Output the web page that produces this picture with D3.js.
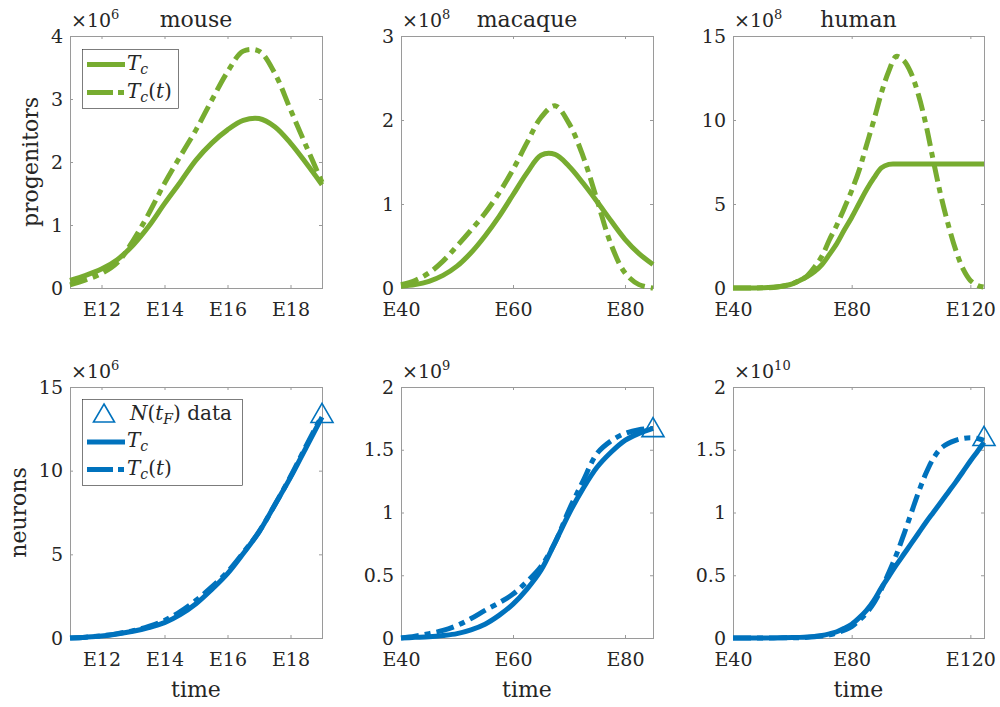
<!DOCTYPE html>
<html><head><meta charset="utf-8">
<script src="https://cdn.jsdelivr.net/npm/d3@7"></script>
<style>
body{margin:0;background:#fff}
svg{display:block}
text{font-family:"DejaVu Serif",serif;fill:#262626}
</style>
</head><body>
<svg id="chart" width="1000" height="707"></svg>
<script>
// ---------------- data ----------------
const speciesNames = ["mouse", "macaque", "human"];
const rowLabels = ["progenitors", "neurons"];
const xLabel = "time";

const mouseTime = [11, 11.5, 12, 12.5, 13, 13.5, 14, 14.5, 15, 15.5, 16, 16.5, 17, 17.5, 18, 18.5, 19];
const mouseProgTc  = [0.12, 0.20, 0.30, 0.45, 0.68, 0.98, 1.34, 1.68, 2.03, 2.30, 2.51, 2.66, 2.69, 2.56, 2.30, 1.98, 1.64];
const mouseProgTct = [0.05, 0.13, 0.23, 0.40, 0.75, 1.18, 1.66, 2.09, 2.51, 2.98, 3.43, 3.76, 3.76, 3.41, 2.83, 2.25, 1.68];
const mouseNeurTc  = [0, 0.05, 0.12, 0.24, 0.40, 0.62, 0.92, 1.40, 2.05, 2.90, 3.85, 5.05, 6.33, 7.95, 9.60, 11.4, 13.2];
const mouseNeurTct = [0, 0.05, 0.13, 0.26, 0.44, 0.70, 1.05, 1.58, 2.25, 3.05, 3.95, 5.10, 6.35, 7.95, 9.65, 11.5, 13.3];
const mouseNData = 13.45;

const macaqueTime = [40, 42.5, 45, 47.5, 50, 52.5, 55, 57.5, 60, 62.5, 65, 67.5, 70, 72.5, 75, 77.5, 80, 82.5, 85];
const macaqueProgTc  = [0.02, 0.04, 0.08, 0.15, 0.26, 0.42, 0.62, 0.85, 1.11, 1.37, 1.58, 1.59, 1.45, 1.25, 1.03, 0.80, 0.58, 0.41, 0.28];
const macaqueProgTct = [0.04, 0.09, 0.18, 0.32, 0.50, 0.69, 0.89, 1.13, 1.41, 1.73, 2.03, 2.17, 1.96, 1.57, 1.05, 0.52, 0.18, 0.04, 0.0];
const macaqueNeurTc  = [0, 0.005, 0.01, 0.02, 0.035, 0.065, 0.11, 0.18, 0.27, 0.39, 0.54, 0.76, 0.99, 1.19, 1.36, 1.48, 1.575, 1.63, 1.67];
const macaqueNeurTct = [0, 0.015, 0.035, 0.06, 0.10, 0.155, 0.22, 0.28, 0.35, 0.45, 0.57, 0.76, 1.02, 1.25, 1.47, 1.57, 1.63, 1.66, 1.67];
const macaqueNData = 1.68;

const humanTime = [40, 45, 50, 55, 60, 62.5, 65, 67.5, 70, 72.5, 75, 77.5, 80, 82.5, 85, 87.5, 90, 92.5, 95, 97.5, 100, 102.5, 105, 107.5, 110, 112.5, 115, 117.5, 120, 122.5, 124.6];
const humanProgTc  = [0, 0, 0.01, 0.07, 0.25, 0.45, 0.68, 0.98, 1.40, 2.0, 2.65, 3.45, 4.2, 5.03, 5.85, 6.55, 7.15, 7.36, 7.38, 7.38, 7.38, 7.38, 7.38, 7.38, 7.38, 7.38, 7.38, 7.38, 7.38, 7.38, 7.38];
const humanProgTct = [0, 0, 0.01, 0.06, 0.25, 0.45, 0.72, 1.25, 1.9, 2.87, 3.75, 4.75, 5.8, 7.0, 8.5, 10.0, 11.6, 12.9, 13.78, 13.55, 12.8, 11.5, 9.75, 7.6, 5.55, 3.8, 2.3, 1.15, 0.45, 0.15, 0.05];
const humanNeurTc  = [0, 0, 0, 0.001, 0.003, 0.005, 0.008, 0.013, 0.02, 0.033, 0.05, 0.077, 0.11, 0.16, 0.22, 0.30, 0.40, 0.49, 0.58, 0.665, 0.75, 0.835, 0.92, 1.0, 1.08, 1.16, 1.24, 1.325, 1.41, 1.49, 1.56];
const humanNeurTct = [0, 0, 0, 0.001, 0.002, 0.003, 0.005, 0.009, 0.015, 0.025, 0.04, 0.062, 0.09, 0.14, 0.20, 0.28, 0.39, 0.52, 0.66, 0.82, 0.99, 1.16, 1.31, 1.43, 1.51, 1.55, 1.575, 1.59, 1.595, 1.59, 1.575];
const humanNData = 1.61;

const xDomains = [[11, 19], [40, 85], [40, 124.6]];
const xTickValues = [[12, 14, 16, 18], [40, 60, 80], [40, 80, 120]];
const progYDomains = [[0, 4], [0, 3], [0, 15]];
const progYTicks = [[0, 1, 2, 3, 4], [0, 1, 2, 3], [0, 5, 10, 15]];
const progExponents = ["6", "8", "8"];
const neurYDomains = [[0, 15], [0, 2], [0, 2]];
const neurYTicks = [[0, 5, 10, 15], [0, 0.5, 1, 1.5, 2], [0, 0.5, 1, 1.5, 2]];
const neurExponents = ["6", "9", "10"];

// ---------------- layout / style ----------------
const GREEN = "#77AC30", BLUE = "#0072BD", BOX = "#9a9a9a";
const colX = [[70, 322], [401, 653], [733, 984]];
const rowY = [[36, 288], [387, 638]];
const DASH = "18,6,6,6";
const LW = 5;

const svg = d3.select("#chart");

const times = [mouseTime, macaqueTime, humanTime];
const prog = [[mouseProgTc, mouseProgTct], [macaqueProgTc, macaqueProgTct], [humanProgTc, humanProgTct]];
const neur = [[mouseNeurTc, mouseNeurTct], [macaqueNeurTc, macaqueNeurTct], [humanNeurTc, humanNeurTct]];
const nData = [mouseNData, macaqueNData, humanNData];

function triPath(cx, cy, w, h) {
  return `M${cx},${cy - h / 2}L${cx + w / 2},${cy + h / 2}L${cx - w / 2},${cy + h / 2}Z`;
}

function drawPanel(r, c) {
  const [x0, x1] = colX[c], [y0, y1] = rowY[r];
  const x = d3.scaleLinear().domain(xDomains[c]).range([x0, x1]);
  const yDom = r === 0 ? progYDomains[c] : neurYDomains[c];
  const yT = r === 0 ? progYTicks[c] : neurYTicks[c];
  const y = d3.scaleLinear().domain(yDom).range([y1, y0]);
  const g = svg.append("g");

  // axes
  const ax = [
    g.append("g").attr("transform", `translate(0,${y1})`).call(d3.axisBottom(x).tickValues(xTickValues[c]).tickSize(-3).tickPadding(15).tickFormat(d => "E" + d)),
    g.append("g").attr("transform", `translate(0,${y0})`).call(d3.axisTop(x).tickValues(xTickValues[c]).tickSize(-3).tickFormat("")),
    g.append("g").attr("transform", `translate(${x0},0)`).call(d3.axisLeft(y).tickValues(yT).tickSize(-3).tickPadding(7).tickFormat(d3.format("~g"))),
    g.append("g").attr("transform", `translate(${x1},0)`).call(d3.axisRight(y).tickValues(yT).tickSize(-3).tickFormat(""))
  ];
  ax.forEach(a => {
    a.select(".domain").remove();
    a.selectAll(".tick line").attr("stroke", BOX);
    a.selectAll(".tick text").attr("fill", "#262626").style("font-family", "DejaVu Serif").style("font-size", "19px");
  });
  g.append("rect").attr("x", x0 + 0.5).attr("y", y0 + 0.5).attr("width", x1 - x0).attr("height", y1 - y0)
    .attr("fill", "none").attr("stroke", BOX).attr("stroke-width", 1);

  // exponent
  const ex = g.append("text").attr("x", x0 + 1).attr("y", y0 - 9).style("font-size", "19px");
  ex.append("tspan").text("×10");
  ex.append("tspan").attr("dy", -8).style("font-size", "13px").text(r === 0 ? progExponents[c] : neurExponents[c]);

  // lines
  const color = r === 0 ? GREEN : BLUE;
  const ser = r === 0 ? prog[c] : neur[c];
  const line = d3.line().x(d => x(d[0])).y(d => y(d[1])).curve(d3.curveCatmullRom.alpha(0.5));
  ser.forEach((vals, i) => {
    const pts = times[c].map((t, k) => [t, vals[k]]);
    g.append("path").attr("d", line(pts)).attr("fill", "none").attr("stroke", color)
      .attr("stroke-width", LW).attr("stroke-linejoin", "round")
      .attr("stroke-dasharray", i === 1 ? DASH : null);
  });
  if (r === 1) {
    const tEnd = xDomains[c][1];
    g.append("path").attr("d", triPath(x(tEnd), y(nData[c]), 22, 19))
      .attr("fill", "none").attr("stroke", BLUE).attr("stroke-width", 1.6);
  }

  if (r === 0) {
    g.append("text").attr("x", (x0 + x1) / 2).attr("y", 27).attr("text-anchor", "middle")
      .style("font-size", "22px").text(speciesNames[c]);
  } else {
    g.append("text").attr("x", (x0 + x1) / 2).attr("y", 697).attr("text-anchor", "middle")
      .style("font-size", "22px").text(xLabel);
  }
  if (c === 0) {
    const bx = r === 0 ? 38 : 26;
    g.append("text").attr("transform", `translate(${bx},${(y0 + y1) / 2}) rotate(-90)`)
      .attr("text-anchor", "middle").style("font-size", "22px").text(rowLabels[r]);
  }
}

for (let r = 0; r < 2; r++) for (let c = 0; c < 3; c++) drawPanel(r, c);

// ---------------- legends ----------------
function tcText(g, x, yb, withT) {
  const t = g.append("text").attr("x", x).attr("y", yb).style("font-size", "20px");
  t.append("tspan").style("font-style", "italic").text("T");
  t.append("tspan").style("font-style", "italic").style("font-size", "14px").attr("dy", 4).text("c");
  if (withT) {
    t.append("tspan").attr("dy", -4).text("(");
    t.append("tspan").style("font-style", "italic").text("t");
    t.append("tspan").text(")");
  }
}

// top legend
{
  const g = svg.append("g");
  g.append("rect").attr("x", 82.5).attr("y", 49.5).attr("width", 96).attr("height", 59)
    .attr("fill", "#fff").attr("stroke", "#262626").attr("stroke-width", 0.6);
  g.append("line").attr("x1", 87).attr("x2", 125).attr("y1", 64.5).attr("y2", 64.5)
    .attr("stroke", GREEN).attr("stroke-width", LW);
  tcText(g, 127, 69.5, false);
  g.append("line").attr("x1", 87).attr("x2", 125).attr("y1", 92.5).attr("y2", 92.5)
    .attr("stroke", GREEN).attr("stroke-width", LW).attr("stroke-dasharray", "26,5,6,5");
  tcText(g, 127, 97.5, true);
}
// bottom legend
{
  const g = svg.append("g");
  g.append("rect").attr("x", 82.5).attr("y", 399.5).attr("width", 160).attr("height", 86)
    .attr("fill", "#fff").attr("stroke", "#262626").attr("stroke-width", 0.6);
  g.append("path").attr("d", triPath(104, 413, 21, 18)).attr("fill", "none")
    .attr("stroke", BLUE).attr("stroke-width", 1.6);
  const t = g.append("text").attr("x", 130).attr("y", 420).style("font-size", "20px");
  t.append("tspan").style("font-style", "italic").text("N");
  t.append("tspan").text("(");
  t.append("tspan").style("font-style", "italic").text("t");
  t.append("tspan").style("font-style", "italic").style("font-size", "14px").attr("dy", 4).text("F");
  t.append("tspan").attr("dy", -4).text(")");
  t.append("tspan").text(" data");
  g.append("line").attr("x1", 87).attr("x2", 125).attr("y1", 442).attr("y2", 442)
    .attr("stroke", BLUE).attr("stroke-width", LW);
  tcText(g, 127, 447, false);
  g.append("line").attr("x1", 87).attr("x2", 125).attr("y1", 469.5).attr("y2", 469.5)
    .attr("stroke", BLUE).attr("stroke-width", LW).attr("stroke-dasharray", "26,5,6,5");
  tcText(g, 127, 474.5, true);
}
</script>
</body></html>
